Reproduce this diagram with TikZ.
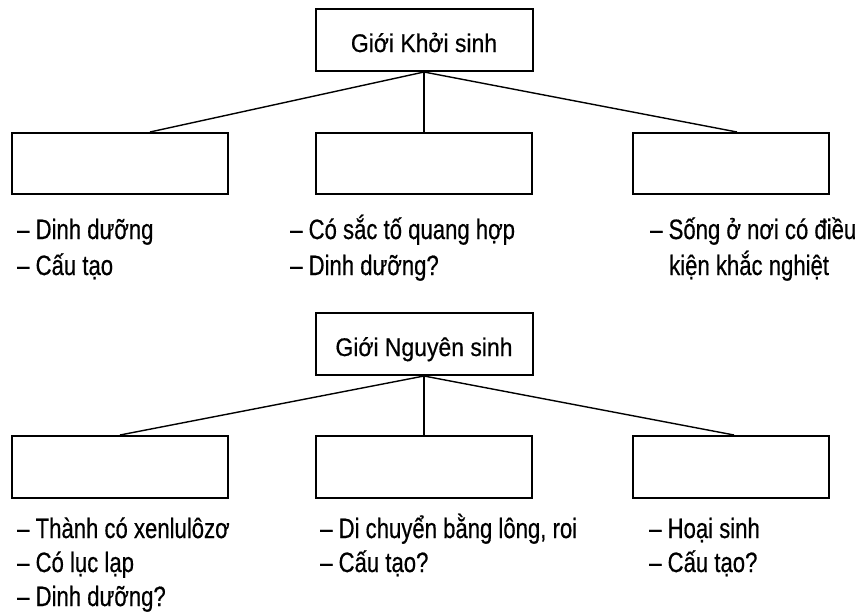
\documentclass[tikz,border=0pt]{standalone}
\usepackage{fontspec}
\setmainfont{Liberation Sans}
\newfontfamily\bodyfont[FakeStretch=0.79,FakeBold=0.5]{Liberation Sans}
\newfontfamily\titlefont[FakeStretch=0.9,FakeBold=0.5]{Liberation Sans}
\begin{document}
\begin{tikzpicture}[x=1pt,y=-1pt,
  box/.style={draw, line width=2pt, inner sep=0pt, minimum height=61pt},
  titlebox/.style={box, minimum width=217pt, minimum height=62pt,
    font=\titlefont\fontsize{25.5}{30}\selectfont, text height=24pt, text depth=0pt},
  wbox/.style={box, minimum width=216pt},
  nbox/.style={box, minimum width=196pt},
  conn/.style={line width=1.4pt},
  txt/.style={anchor=base west, inner sep=0pt, font=\bodyfont\fontsize{28}{36}\selectfont}]
\useasboundingbox (0,0) rectangle (860,611);
% ---- first diagram
\node[titlebox] (t1) at (424,40) {Giới Khởi sinh};
\node[wbox] (l1) at (120,163.5) {};
\node[wbox] (m1) at (424,163.5) {};
\node[nbox] (r1) at (731,163.5) {};
\draw[conn] (t1.south) -- ([xshift=139pt]l1.north west);
\draw[conn] (t1.south) -- (m1.north);
\draw[conn] (t1.south) -- ([xshift=105pt]r1.north west);
\node[txt] (a1) at (17,239) {– Dinh dưỡng};
\node[txt] (a2) at (17,275) {– Cấu tạo};
\node[txt] (b1) at (290,239) {– Có sắc tố quang hợp};
\node[txt] (b2) at (290,275) {– Dinh dưỡng?};
\node[txt] (c1) at (650,239) {– Sống ở nơi có điều};
\node[txt] (c2) at (669,275) {kiện khắc nghiệt};
% ---- second diagram
\node[titlebox] (t2) at (424,344) {Giới Nguyên sinh};
\node[wbox, minimum height=62pt] (l2) at (120,467) {};
\node[wbox, minimum height=62pt] (m2) at (424,467) {};
\node[nbox, minimum height=62pt] (r2) at (731,467) {};
\draw[conn] (t2.south) -- (l2.north);
\draw[conn] (t2.south) -- (m2.north);
\draw[conn] (t2.south) -- ([xshift=102pt]r2.north west);
\node[txt] (d1) at (17,538) {– Thành có xenlulôzơ};
\node[txt] (d2) at (17,572) {– Có lục lạp};
\node[txt] (d3) at (17,606) {– Dinh dưỡng?};
\node[txt] (e1) at (320,538) {– Di chuyển bằng lông, roi};
\node[txt] (e2) at (320,572) {– Cấu tạo?};
\node[txt] (f1) at (649,538) {– Hoại sinh};
\node[txt] (f2) at (649,572) {– Cấu tạo?};
\end{tikzpicture}
\end{document}
